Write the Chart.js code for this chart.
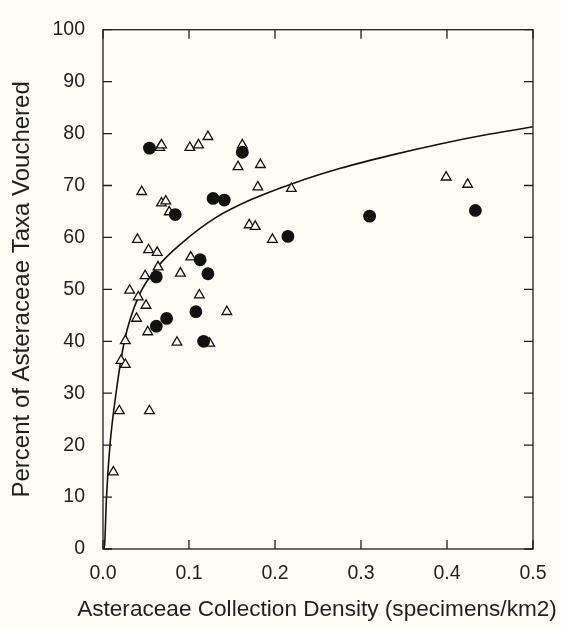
<!DOCTYPE html>
<html>
<head>
<meta charset="utf-8">
<script src="https://cdn.jsdelivr.net/npm/chart.js@4"></script>
<style>
  html, body { margin: 0; padding: 0; background: #fdfdf5; }
  #wrap { width: 561px; height: 629px; }
</style>
</head>
<body>
<div id="wrap"><canvas id="myChart"></canvas></div>
<script>
// filled circles
var closedX = [0.054, 0.162, 0.128, 0.141, 0.084, 0.215, 0.113, 0.062, 0.122, 0.108, 0.074, 0.062, 0.117, 0.310, 0.433];
var closedY = [77.2, 76.4, 67.5, 67.2, 64.4, 60.2, 55.7, 52.4, 53.0, 45.7, 44.4, 42.9, 40.0, 64.1, 65.2];

// open triangles
var openX = [0.066, 0.068, 0.101, 0.111, 0.122, 0.162, 0.157, 0.183, 0.180, 0.219,
             0.045, 0.068, 0.073, 0.077, 0.170, 0.177, 0.197, 0.040, 0.053, 0.063,
             0.102, 0.064, 0.049, 0.090, 0.031, 0.041, 0.112, 0.050, 0.144, 0.039,
             0.052, 0.026, 0.086, 0.124, 0.021, 0.026, 0.019, 0.054, 0.012, 0.399, 0.424];
var openY = [77.3, 77.8, 77.3, 77.8, 79.4, 77.8, 73.6, 74.0, 69.7, 69.4,
             68.8, 66.6, 67.0, 64.9, 62.4, 62.1, 59.6, 59.6, 57.6, 57.1,
             56.2, 54.3, 52.6, 53.1, 49.8, 48.5, 48.9, 46.9, 45.7, 44.4,
             41.8, 40.1, 39.8, 39.6, 36.3, 35.5, 26.6, 26.6, 14.8, 71.6, 70.2];

// fitted curve
var fitX = [0.001, 0.002, 0.004, 0.008, 0.015, 0.025, 0.041, 0.064, 0.093, 0.132, 0.171, 0.221, 0.276, 0.334, 0.392, 0.450, 0.500];
var fitY = [0.0, 1.1, 9.8, 19.8, 29.8, 40.1, 48.5, 54.4, 59.1, 63.9, 67.2, 70.4, 73.3, 75.8, 78.0, 79.9, 81.3];

var xTickLabels = ['0.0', '0.1', '0.2', '0.3', '0.4', '0.5'];
var xTitle = 'Asteraceae Collection Density (specimens/km2)';
var yTitle = 'Percent of Asteraceae Taxa Vouchered';

function pts(xs, ys) {
  return xs.map(function (v, i) { return {x: v, y: ys[i]}; });
}

var ink = '#1f1f1f';
var face = '"Liberation Sans", Arial, sans-serif';

// box round the plot with inward ticks on all four sides
var frame = {
  id: 'frame',
  afterDatasetsDraw: function (chart) {
    var ctx = chart.ctx, a = chart.chartArea, sx = chart.scales.x, sy = chart.scales.y;
    var len = 9;
    ctx.save();
    ctx.strokeStyle = ink;
    ctx.lineWidth = 1.3;
    ctx.strokeRect(a.left, a.top, a.right - a.left, a.bottom - a.top);
    ctx.beginPath();
    sx.ticks.forEach(function (t) {
      var px = sx.getPixelForValue(t.value);
      ctx.moveTo(px, a.bottom); ctx.lineTo(px, a.bottom - len);
      ctx.moveTo(px, a.top); ctx.lineTo(px, a.top + len);
    });
    sy.ticks.forEach(function (t) {
      var py = sy.getPixelForValue(t.value);
      ctx.moveTo(a.left, py); ctx.lineTo(a.left + len, py);
      ctx.moveTo(a.right, py); ctx.lineTo(a.right - len, py);
    });
    ctx.stroke();
    ctx.restore();
  }
};

// x title is wider than the plot, so chart.js would squeeze it; draw it here
var xTitlePlugin = {
  id: 'xTitle',
  afterDraw: function (chart) {
    var ctx = chart.ctx, a = chart.chartArea;
    ctx.save();
    ctx.fillStyle = ink;
    ctx.font = '22.6px ' + face;
    ctx.textAlign = 'center';
    ctx.textBaseline = 'middle';
    ctx.fillText(xTitle, (a.left + a.right) / 2 - 1, 610);
    ctx.restore();
  }
};

var ctx = document.getElementById('myChart');
var myChart = new Chart(ctx, {
  type: 'scatter',
  data: {
    datasets: [
      {
        data: pts(closedX, closedY),
        pointStyle: 'circle',
        pointRadius: 6.4,
        backgroundColor: '#111',
        borderColor: '#111',
        borderWidth: 0
      },
      {
        data: pts(openX, openY),
        pointStyle: 'triangle',
        pointRadius: 5.6,
        backgroundColor: '#fdfdf5',
        borderColor: '#111',
        borderWidth: 1.3
      },
      {
        data: pts(fitX, fitY),
        showLine: true,
        pointRadius: 0,
        borderColor: '#111',
        borderWidth: 1.6,
        cubicInterpolationMode: 'monotone',
        fill: false
      }
    ]
  },
  options: {
    maintainAspectRatio: false,
    responsive: true,
    animation: false,
    layout: { padding: { top: 15, right: 28, bottom: 0, left: 0 } },
    plugins: { legend: { display: false }, tooltip: { enabled: false } },
    scales: {
      x: {
        type: 'linear',
        min: 0,
        max: 0.5,
        grid: { display: false, drawTicks: false },
        border: { display: false },
        ticks: {
          stepSize: 0.1,
          padding: 13,
          color: ink,
          font: { family: face, size: 19.5 },
          maxRotation: 0,
          callback: function (v, i) { return xTickLabels[i]; }
        },
        afterFit: function (s) { s.height = 80; }
      },
      y: {
        min: 0,
        max: 100,
        grid: { display: false, drawTicks: false },
        border: { display: false },
        ticks: {
          stepSize: 10,
          padding: 18,
          color: ink,
          font: { family: face, size: 19.5 }
        },
        title: {
          display: true,
          text: yTitle,
          color: ink,
          font: { family: face, size: 24 },
          padding: { top: 8, bottom: 0 }
        },
        afterFit: function (s) { s.width = 103; }
      }
    }
  },
  plugins: [frame, xTitlePlugin]
});
</script>
</body>
</html>
